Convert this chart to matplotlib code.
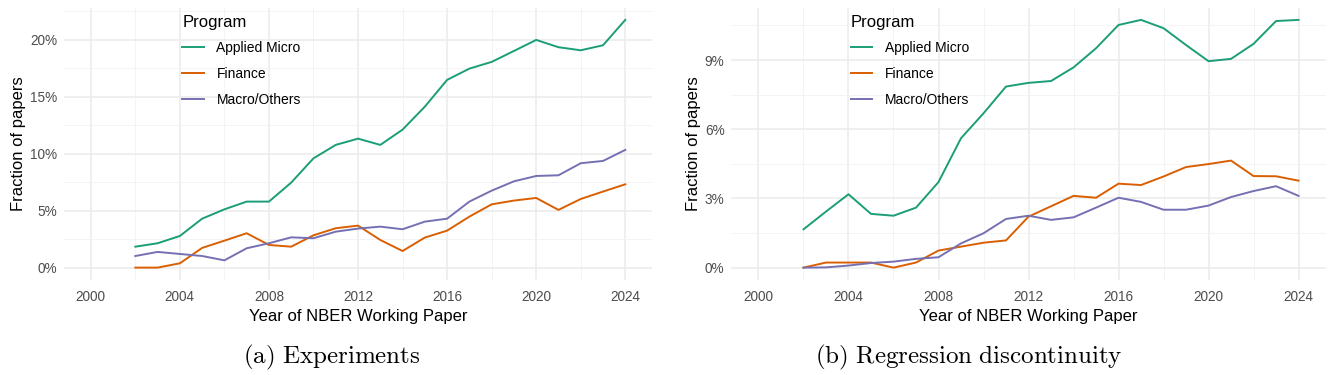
import matplotlib.pyplot as plt
from matplotlib.ticker import FuncFormatter

years = list(range(2002, 2025))
programs = ["Applied Micro", "Finance", "Macro/Others"]
colors = ["#1B9E77", "#D95F02", "#7570B3"]

# (a) Experiments, percent of papers
exp_micro = [1.84, 2.14, 2.78, 4.30, 5.12, 5.80, 5.80, 7.47, 9.60, 10.78, 11.33, 10.78,
             12.12, 14.14, 16.49, 17.48, 18.07, 19.03, 20.00, 19.36, 19.09, 19.53, 21.76]
exp_finance = [0.0, 0.0, 0.38, 1.73, 2.37, 3.02, 1.99, 1.84, 2.84, 3.46, 3.69, 2.43,
               1.46, 2.64, 3.25, 4.48, 5.56, 5.89, 6.12, 5.07, 6.03, 6.68, 7.32]
exp_macro = [1.02, 1.38, 1.20, 1.02, 0.64, 1.70, 2.14, 2.66, 2.58, 3.16, 3.43, 3.60,
             3.37, 4.04, 4.30, 5.80, 6.76, 7.58, 8.05, 8.11, 9.17, 9.37, 10.34]

# (b) Regression discontinuity, percent of papers
rd_micro = [1.66, 2.43, 3.18, 2.33, 2.25, 2.60, 3.71, 5.61, 6.69, 7.85, 8.01, 8.09,
            8.68, 9.51, 10.52, 10.74, 10.38, 9.65, 8.95, 9.05, 9.70, 10.69, 10.74]
rd_finance = [0.0, 0.22, 0.22, 0.22, 0.0, 0.22, 0.74, 0.91, 1.08, 1.18, 2.21, 2.66,
              3.11, 3.03, 3.64, 3.58, 3.95, 4.36, 4.49, 4.64, 3.97, 3.96, 3.77]
rd_macro = [0.0, 0.01, 0.09, 0.20, 0.26, 0.38, 0.45, 1.05, 1.49, 2.11, 2.25, 2.07,
            2.18, 2.60, 3.03, 2.85, 2.51, 2.51, 2.69, 3.06, 3.32, 3.53, 3.11]

plt.rcParams['font.family'] = ['Liberation Sans', 'DejaVu Sans']
plt.rcParams['mathtext.fontset'] = 'cm'

fig = plt.figure(figsize=(13.29, 3.75), dpi=100)
ax_a = fig.add_axes([0.0482, 0.2533, 0.4424, 0.7267])
ax_b = fig.add_axes([0.5504, 0.2533, 0.447, 0.7267])


def style_panel(ax, series, major, top):
    for vals, name, col in zip(series, programs, colors):
        ax.plot(years, vals, color=col, lw=1.4, label=name)
    pad = top * 0.05
    ax.set_xlim(2000 - 1.2, 2024 + 1.2)
    ax.set_ylim(-pad, top + pad)
    ax.set_xticks([2000, 2004, 2008, 2012, 2016, 2020, 2024])
    ax.set_xticks(range(2002, 2025, 4), minor=True)
    yt = [major * i for i in range(int(top / major) + 1)]
    ax.set_yticks(yt)
    ax.set_yticks([v + major / 2 for v in yt], minor=True)
    ax.yaxis.set_major_formatter(FuncFormatter(lambda v, p: f"{v:.0f}%"))
    ax.grid(which='major', color='#EBEBEB', lw=1.1)
    ax.grid(which='minor', color='#F2F2F2', lw=0.6)
    ax.set_axisbelow(True)
    for s in ax.spines.values():
        s.set_visible(False)
    ax.tick_params(which='both', length=0, labelsize=9.8, colors='#4D4D4D')
    ax.tick_params(axis='x', pad=7)
    ax.tick_params(axis='y', pad=5)
    ax.set_xlabel("Year of NBER Working Paper", fontsize=12, labelpad=4)
    ax.set_ylabel("Fraction of papers", fontsize=12, labelpad=3)
    leg = ax.legend(title="Program", loc='upper left', bbox_to_anchor=(0.18, 1.02),
                    frameon=False, fontsize=10, title_fontsize=12, handlelength=1.55,
                    handletextpad=0.9, labelspacing=0.85, alignment='left')
    return leg


style_panel(ax_a, [exp_micro, exp_finance, exp_macro], 5, 21.76)
style_panel(ax_b, [rd_micro, rd_finance, rd_macro], 3, 10.74)

fig.text(0.2498, 0.047, r"$\mathrm{(a)\ Experiments}$", ha='center', va='center', fontsize=18)
fig.text(0.729, 0.047, r"$\mathrm{(b)\ Regression\ discontinuity}$", ha='center', va='center',
         fontsize=18)

fig.savefig("out.png", dpi=100)
